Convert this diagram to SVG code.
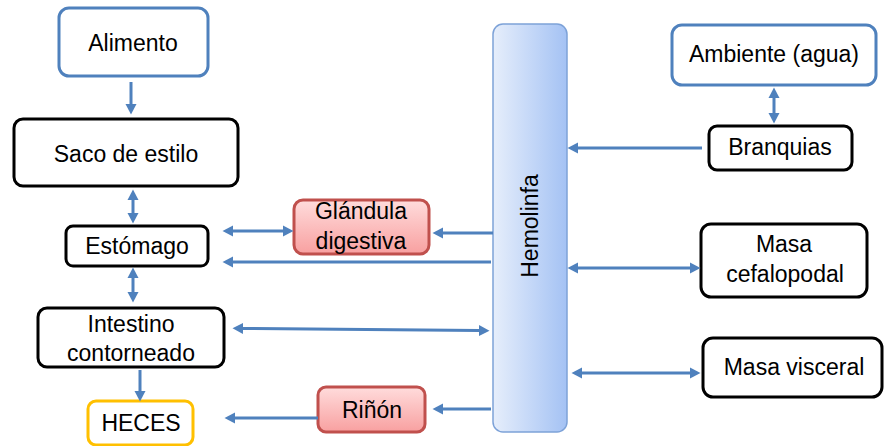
<svg xmlns="http://www.w3.org/2000/svg" width="889" height="446" viewBox="0 0 889 446">
<style>
.box{fill:#fff;stroke-width:3}
.blue{stroke:#4F81BD}
.black{stroke:#000}
.yellow{stroke:#FFC000}
.red{fill:url(#redg);stroke:#C0504D;stroke-width:3}
text{font-family:"Liberation Sans",Arial,sans-serif;font-size:23px;fill:#000;text-anchor:middle}
.c line{stroke:#4F81BD;stroke-width:3;fill:none}
</style>
<defs>
<linearGradient id="redg" x1="0" y1="0" x2="0" y2="1">
<stop offset="0" stop-color="#FFDCDC"/>
<stop offset="1" stop-color="#F8A0A0"/>
</linearGradient>
<linearGradient id="blueg" x1="0" y1="0" x2="1" y2="0">
<stop offset="0" stop-color="#E6EEFB"/>
<stop offset="1" stop-color="#A4C2F4"/>
</linearGradient>
<marker id="ah" markerUnits="userSpaceOnUse" markerWidth="11" markerHeight="12" refX="0" refY="6" orient="auto-start-reverse" viewBox="0 0 11 12">
<path d="M0,0.5 L10.5,6 L0,11.5 z" fill="#4F81BD"/>
</marker>
</defs>

<g id="hemolinfa">
<rect x="493" y="24" width="74" height="408" rx="10" fill="url(#blueg)" stroke="#7DA2D8" stroke-width="1.5"/>
<text transform="translate(538,226) rotate(-90)">Hemolinfa</text>
</g>

<g id="alimento">
<rect class="box blue" x="59" y="8" width="149" height="68" rx="10"/>
<text x="133" y="51">Alimento</text>
</g>
<g id="saco">
<rect class="box black" x="14" y="119" width="224" height="67" rx="9"/>
<text x="126" y="162">Saco de estilo</text>
</g>
<g id="estomago">
<rect class="box black" x="66" y="226" width="142" height="40" rx="7"/>
<text x="137" y="254">Estómago</text>
</g>
<g id="intestino">
<rect class="box black" x="38" y="308" width="186" height="59" rx="9"/>
<text x="131" y="332">Intestino</text>
<text x="131" y="361">contorneado</text>
</g>
<g id="heces">
<rect class="box yellow" x="88" y="401" width="105" height="44" rx="8"/>
<text x="141" y="431">HECES</text>
</g>
<g id="glandula">
<rect class="red" x="294" y="200" width="135" height="54" rx="9"/>
<text x="361" y="219">Glándula</text>
<text x="361" y="249">digestiva</text>
</g>
<g id="rinon">
<rect class="red" x="318" y="387" width="107" height="45" rx="8"/>
<text x="372" y="418">Riñón</text>
</g>
<g id="ambiente">
<rect class="box blue" x="672" y="25" width="204" height="60" rx="10"/>
<text x="774" y="62">Ambiente (agua)</text>
</g>
<g id="branquias">
<rect class="box black" x="709" y="126" width="143" height="44" rx="8"/>
<text x="780" y="155">Branquias</text>
</g>
<g id="masacef">
<rect class="box black" x="701" y="224" width="166" height="73" rx="10"/>
<text x="784" y="252">Masa</text>
<text x="785" y="282">cefalopodal</text>
</g>
<g id="masavisc">
<rect class="box black" x="703" y="338" width="179" height="59" rx="10"/>
<text x="794" y="375">Masa visceral</text>
</g>

<g id="connectors" class="c">
<line x1="131" y1="82" x2="131" y2="104" marker-end="url(#ah)"/>
<line x1="133" y1="200" x2="133" y2="213" marker-start="url(#ah)" marker-end="url(#ah)"/>
<line x1="133" y1="278" x2="133" y2="292" marker-start="url(#ah)" marker-end="url(#ah)"/>
<line x1="140" y1="370" x2="140" y2="391" marker-end="url(#ah)"/>
<line x1="233" y1="231" x2="283" y2="231" marker-start="url(#ah)" marker-end="url(#ah)"/>
<line x1="493" y1="233" x2="443" y2="233" marker-end="url(#ah)"/>
<line x1="491" y1="262" x2="233" y2="262" marker-end="url(#ah)"/>
<line x1="243" y1="328.4" x2="479" y2="330.6" marker-start="url(#ah)" marker-end="url(#ah)"/>
<line x1="318" y1="418" x2="235" y2="418" marker-end="url(#ah)"/>
<line x1="491" y1="409" x2="443" y2="409" marker-end="url(#ah)"/>
<line x1="774" y1="98" x2="774" y2="113" marker-start="url(#ah)" marker-end="url(#ah)"/>
<line x1="702" y1="148" x2="578" y2="148" marker-end="url(#ah)"/>
<line x1="578" y1="268" x2="690" y2="268" marker-start="url(#ah)" marker-end="url(#ah)"/>
<line x1="582" y1="373" x2="690" y2="373" marker-start="url(#ah)" marker-end="url(#ah)"/>
</g>
</svg>
